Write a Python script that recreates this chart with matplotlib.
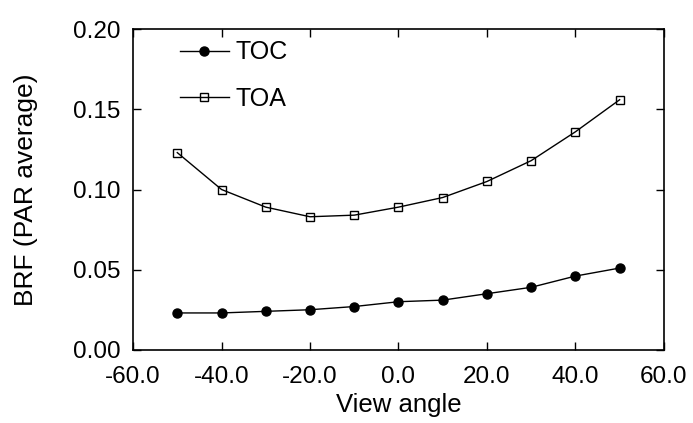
import matplotlib
matplotlib.use("Agg")
import matplotlib.pyplot as plt

plt.rcParams['font.family'] = ['Liberation Sans', 'DejaVu Sans']

# Data
view_angle = [-50, -40, -30, -20, -10, 0, 10, 20, 30, 40, 50]
brf_toc = [0.023, 0.023, 0.024, 0.025, 0.027, 0.030, 0.031, 0.035, 0.039, 0.046, 0.051]
brf_toa = [0.123, 0.100, 0.089, 0.083, 0.084, 0.089, 0.095, 0.105, 0.118, 0.136, 0.156]

x_ticks = [-60, -40, -20, 0, 20, 40, 60]
y_ticks = [0.00, 0.05, 0.10, 0.15, 0.20]

fig = plt.figure(figsize=(6.93, 4.23), dpi=100)
ax = fig.add_axes([0.192, 0.173, 0.766, 0.758])

# TOC: filled circles
ax.plot(view_angle, brf_toc, color='black', linewidth=1.0,
        marker='o', markersize=6.5, markerfacecolor='black',
        markeredgecolor='black', label='TOC')

# TOA: open squares
ax.plot(view_angle, brf_toa, color='black', linewidth=1.0,
        marker='s', markersize=5.5, markerfacecolor='none',
        markeredgecolor='black', markeredgewidth=1.0, label='TOA')

ax.set_xlim(-60, 60)
ax.set_ylim(0, 0.20)
ax.set_xticks(x_ticks)
ax.set_yticks(y_ticks)
ax.set_xticklabels([f"{v:.1f}" for v in x_ticks])
ax.set_yticklabels([f"{v:.2f}" for v in y_ticks])

ax.tick_params(direction='in', length=6, width=1.0, labelsize=17.5,
               top=True, right=True)
ax.tick_params(axis='y', pad=9)
ax.tick_params(axis='x', pad=12)
for s in ax.spines.values():
    s.set_linewidth(1.2)

ax.set_xlabel("View angle", fontsize=18.5, labelpad=3)
ax.set_ylabel("BRF (PAR average)", fontsize=19, labelpad=25)

ax.legend(loc='upper left', bbox_to_anchor=(0.088, 0.965), frameon=False,
          fontsize=18, handlelength=1.96, handletextpad=0.28,
          labelspacing=0.9, borderpad=0, borderaxespad=0)

fig.savefig("out.png", dpi=100)
